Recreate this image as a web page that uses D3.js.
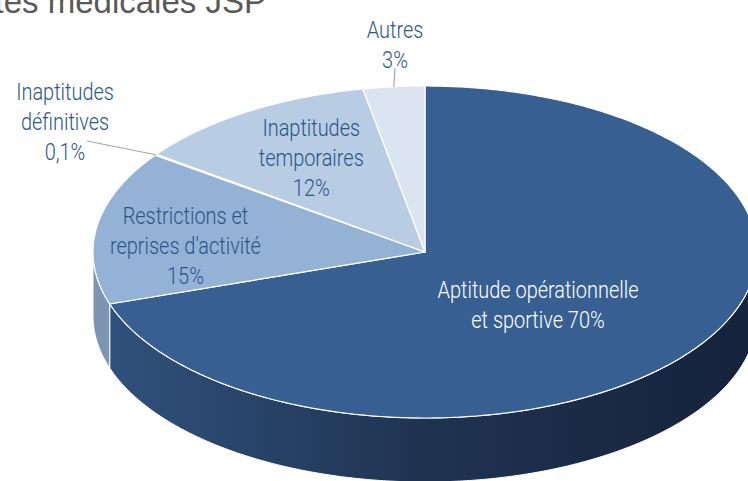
<!DOCTYPE html>
<html>
<head>
<meta charset="utf-8">
<script src="https://cdn.jsdelivr.net/npm/d3@7"></script>
<style>
  body { margin: 0; background: #fff; }
  svg { display: block; }
  .lbl { font-family: "Roboto", "Noto Sans", sans-serif; font-size: 24px; font-weight: 300; }
</style>
</head>
<body>
<svg id="chart" width="748" height="481"></svg>
<script>
// data
const categories = ['Aptitude opérationnelle et sportive', 'Restrictions et reprises d\'activité', 'Inaptitudes définitives', 'Inaptitudes temporaires', 'Autres'];
const values = [70, 15, 0.1, 12, 3];
const valueLabels = ['70%', '15%', '0,1%', '12%', '3%'];
const labelLines = [
    ['Aptitude opérationnelle', 'et sportive 70%'],
    ['Restrictions et', 'reprises d\'activité', '15%'],
    ['Inaptitudes', 'définitives', '0,1%'],
    ['Inaptitudes', 'temporaires', '12%'],
    ['Autres', '3%']
];

const topColors = ['#375F91', '#94B2D6', '#F0D6D6', '#B8CCE4', '#DBE5F1'];
const sideColors = ['url(#sideGrad)', '#7C95B2', '#C9B3B3', '#9AAAC0', '#B7BFCA'];

const svg = d3.select('#chart');
const cx = 425, cy = 252, rx = 332, ry = 166, depth = 64;

const defs = svg.append('defs');
const grad = defs.append('linearGradient').attr('id', 'sideGrad')
    .attr('gradientUnits', 'userSpaceOnUse')
    .attr('x1', cx - rx).attr('x2', cx + rx).attr('y1', 0).attr('y2', 0);
grad.append('stop').attr('offset', '0%').attr('stop-color', '#31537E');
grad.append('stop').attr('offset', '50%').attr('stop-color', '#1F3351');
grad.append('stop').attr('offset', '100%').attr('stop-color', '#15223A');

// title (cut at the top in the original)
svg.append('text')
    .attr('x', 266).attr('y', 13)
    .attr('text-anchor', 'end')
    .attr('font-family', 'Liberation Sans, Arial, sans-serif')
    .attr('font-size', 33)
    .attr('fill', '#595959')
    .text('Visites médicales JSP');

const pie = d3.pie().sort(null).startAngle(0).endAngle(2 * Math.PI);
const arcs = pie(values);

// point on the ellipse, angle measured clockwise from 12 o'clock
const pt = (a, dy) => [cx + rx * Math.sin(a), cy - ry * Math.cos(a) + (dy || 0)];

function topPath(d) {
    const n = Math.max(2, Math.ceil((d.endAngle - d.startAngle) / 0.01));
    const pts = d3.range(n + 1).map(i => pt(d.startAngle + (d.endAngle - d.startAngle) * i / n));
    return 'M' + cx + ',' + cy + 'L' + pts.map(p => p.join(',')).join('L') + 'Z';
}

function sidePath(a0, a1) {
    const n = Math.max(2, Math.ceil((a1 - a0) / 0.01));
    const top = d3.range(n + 1).map(i => pt(a0 + (a1 - a0) * i / n));
    const bot = top.map(p => [p[0], p[1] + depth]).reverse();
    return 'M' + top.concat(bot).map(p => p.join(',')).join('L') + 'Z';
}

// side walls: only the front half (pi/2 .. 3pi/2) is visible
const half0 = Math.PI / 2, half1 = 3 * Math.PI / 2;
arcs.forEach((d, i) => {
    const a0 = Math.max(d.startAngle, half0), a1 = Math.min(d.endAngle, half1);
    if (a1 <= a0) return;
    svg.append('path')
        .attr('d', sidePath(a0, a1))
        .attr('fill', sideColors[i])
        .attr('stroke', '#ffffff')
        .attr('stroke-width', 1)
        .attr('stroke-linejoin', 'round');
});

// top faces
svg.selectAll('path.top')
    .data(arcs)
    .enter().append('path')
    .attr('class', 'top')
    .attr('d', topPath)
    .attr('fill', (d, i) => topColors[i])
    .attr('stroke', '#ffffff')
    .attr('stroke-width', 1.2)
    .attr('stroke-linejoin', 'round');

// label placement: inside labels at a fraction of the radius, outside labels with leader lines
const labelLayout = [
    { k: 0.42, dx: 0, dy: 12, color: '#ffffff' },
    { k: 0.73, dx: 0, dy: 12, color: '#2B5689' },
    { outside: true, tx: 65, ty: 122, color: '#2B5689', lineTo: [87, 141] },
    { k: 0.64, dx: 0, dy: -5, color: '#2B5689' },
    { outside: true, tx: 395, ty: 45, color: '#2B5689', lineTo: [395, 68] }
];
const lineH = 30;
const squeeze = 0.83;

arcs.forEach((d, i) => {
    const mid = (d.startAngle + d.endAngle) / 2;
    const L = labelLayout[i];
    let x, y;
    if (L.outside) {
        const e = pt(mid);
        svg.append('line')
            .attr('x1', e[0]).attr('y1', e[1])
            .attr('x2', L.lineTo[0]).attr('y2', L.lineTo[1])
            .attr('stroke', '#A6A6A6').attr('stroke-width', 1.2);
        x = L.tx; y = L.ty;
    } else {
        x = cx + rx * L.k * Math.sin(mid) + L.dx;
        y = cy - ry * L.k * Math.cos(mid) + L.dy;
    }
    const lines = labelLines[i];
    const t = svg.append('text')
        .attr('class', 'lbl')
        .attr('text-anchor', 'middle')
        .attr('transform', 'translate(' + x + ',0) scale(' + squeeze + ',1)')
        .attr('fill', L.color);
    lines.forEach((s, j) => {
        t.append('tspan')
            .attr('x', 0)
            .attr('y', y + (j - (lines.length - 1) / 2) * lineH)
            .attr('dy', '0.35em')
            .text(s);
    });
});
</script>
</body>
</html>
